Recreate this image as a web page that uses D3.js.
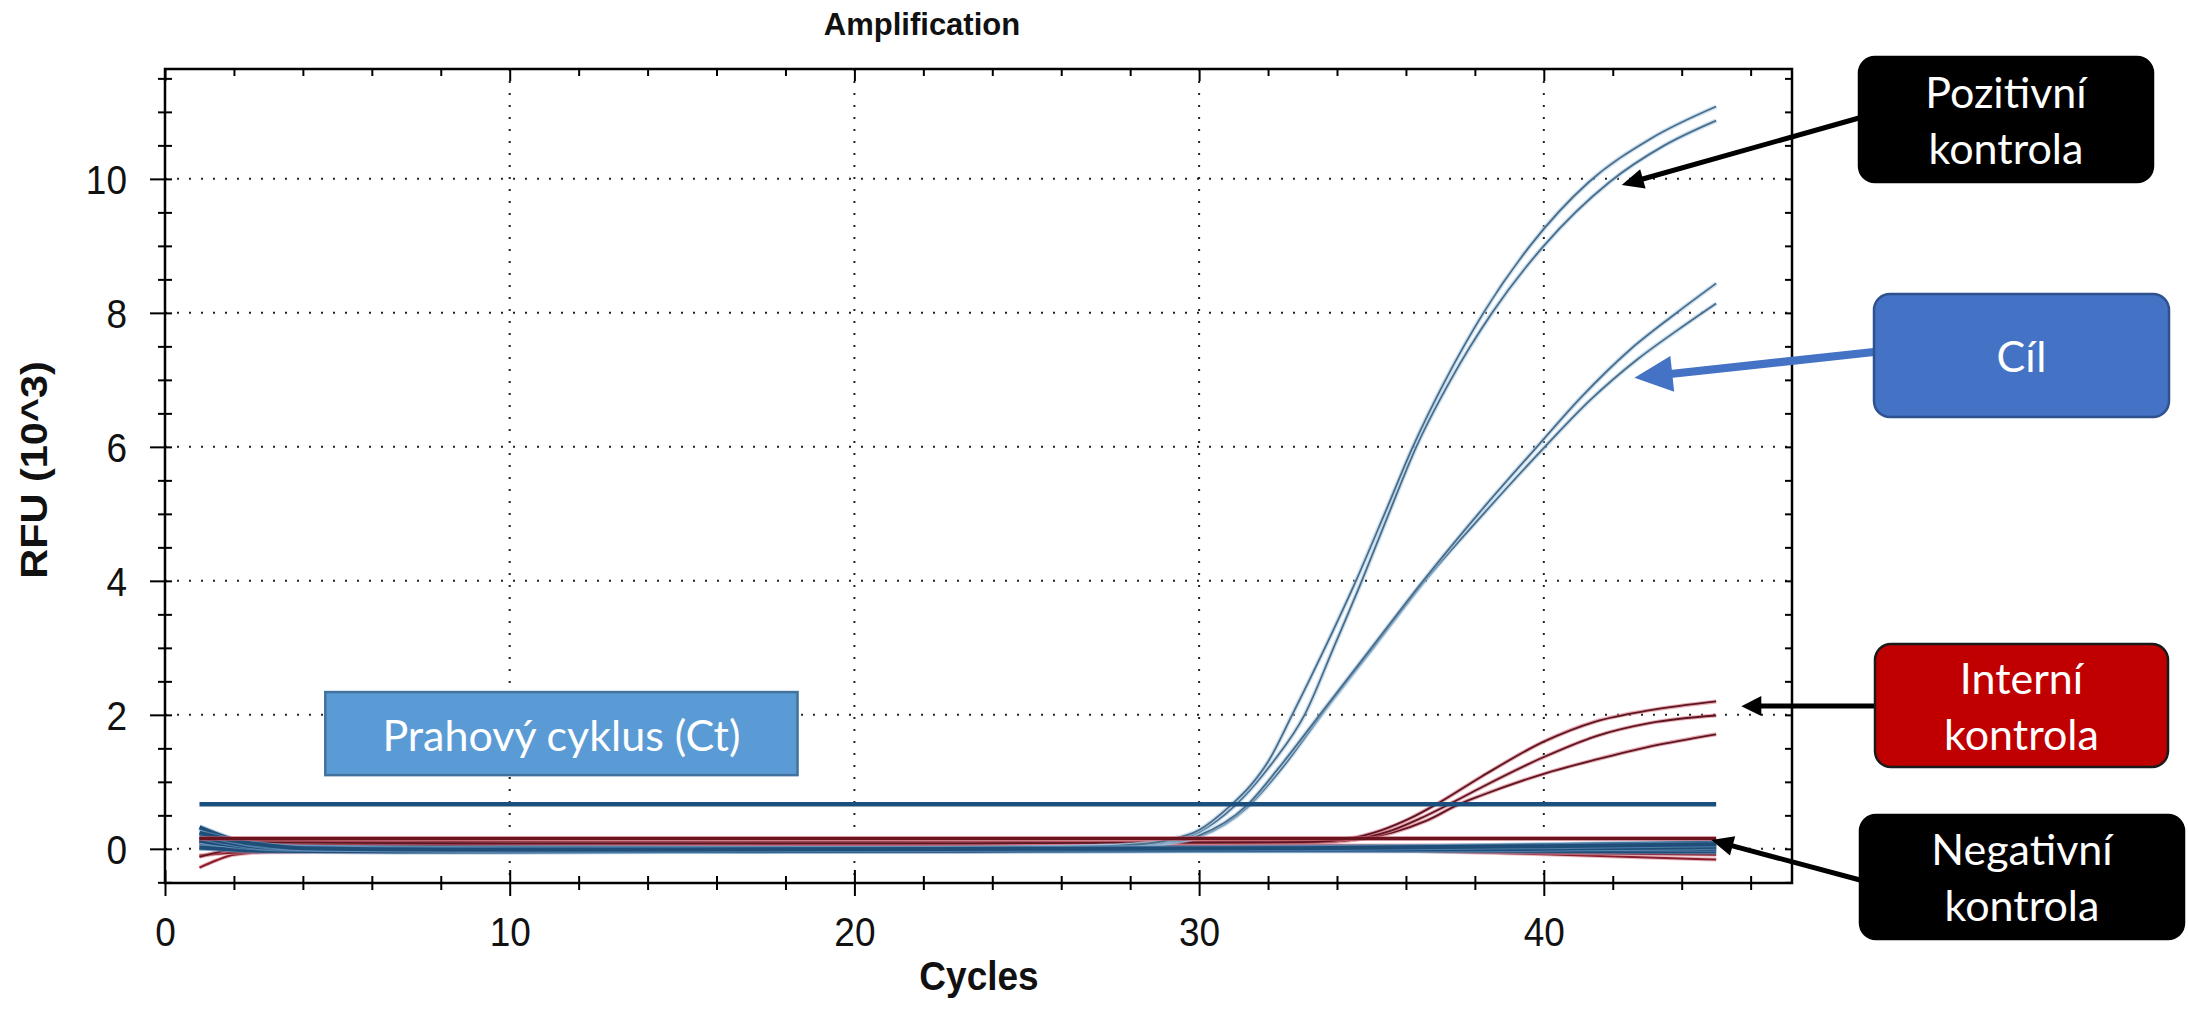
<!DOCTYPE html>
<html lang="cs">
<head>
<meta charset="UTF-8">
<title>Amplification</title>
<script src="https://cdn.jsdelivr.net/npm/d3@7/dist/d3.min.js"></script>
<style>
    body { margin: 0; background: #fff; }
    svg { display: block; }
</style>
</head>
<body>
<script>
    /* global d3 */

    // axis labels
    var xTickLabels = [0, 10, 20, 30, 40];
    var yTickLabels = [0, 2, 4, 6, 8, 10];
    var gridX = [10, 20, 30, 40];
    var gridY = [0, 2, 4, 6, 8, 10];

    // threshold lines (RFU x10^3)
    var thresholdCil = 0.667;
    var thresholdIC = 0.154;

    // [cycle, RFU x10^3]
    var pozitivni1 = [[1,0.06],[3,0.03],[8,0.01],[15,0.0],[22,0.01],[27,0.04],[28,0.06],[29,0.12],[30,0.28],[30.9,0.64],[31.5,0.95],[32,1.3],[32.7,2.0],[33.65,3.0],[34.55,4.0],[35.38,5.0],[36.2,6.0],[37.15,7.0],[38.25,8.0],[39.6,9.0],[41.3,9.95],[43.1,10.6],[45,11.08]];
    var pozitivni2 = [[1,0.0],[3,0.01],[8,0.0],[15,-0.01],[22,0.0],[27,0.03],[28,0.05],[29,0.1],[30,0.25],[31.03,0.64],[31.6,0.95],[32.15,1.3],[33.06,2.0],[33.9,3.0],[34.72,4.0],[35.5,5.0],[36.3,6.0],[37.3,7.0],[38.5,8.0],[40.0,9.0],[41.9,9.95],[43.5,10.5],[45,10.87]];

    var cil1 = [[1,0.03],[3,0.02],[8,0.0],[15,0.0],[22,0.0],[27,0.03],[28,0.05],[29,0.09],[30,0.2],[31.37,0.64],[32.3,1.2],[33.5,2.0],[35.0,3.0],[36.5,4.0],[38.1,5.0],[39.8,6.0],[41.1,6.75],[42.5,7.45],[43.8,7.98],[45,8.44]];
    var cil2 = [[1,0.01],[3,0.0],[8,-0.01],[15,0.0],[22,0.0],[27,0.02],[28,0.04],[29,0.08],[30,0.18],[31.4,0.62],[32.4,1.2],[33.55,2.0],[35.05,3.0],[36.55,4.0],[38.25,5.0],[40.03,6.0],[41.35,6.7],[42.7,7.3],[43.9,7.75],[45,8.14]];

    var interni1 = [[1,0.1],[5,0.09],[12,0.08],[20,0.08],[28,0.09],[33,0.1],[34.3,0.15],[35.3,0.28],[36.1,0.45],[36.9,0.67],[38.2,1.08],[40,1.6],[41.5,1.9],[43.1,2.07],[45,2.2]];
    var interni2 = [[1,0.13],[5,0.11],[12,0.1],[20,0.1],[28,0.1],[33,0.11],[34.5,0.15],[35.5,0.26],[36.4,0.45],[37.27,0.67],[38.2,0.92],[40,1.37],[41.5,1.68],[43.1,1.88],[45,1.99]];
    var interni3 = [[1,-0.12],[2,0.0],[3,0.05],[8,0.06],[15,0.07],[25,0.08],[33,0.09],[34.6,0.14],[35.6,0.24],[36.6,0.42],[37.56,0.67],[38.2,0.8],[40,1.12],[41.5,1.33],[43.1,1.53],[45,1.71]];

    var negModra1 = [[1,0.32],[1.5,0.22],[2.2,0.1],[3,0.04],[5,0.0],[10,-0.02],[20,-0.03],[28,-0.02],[35,-0.01],[40,0.0],[45,0.03]];
    var negModra2 = [[1,0.24],[2,0.12],[3,0.05],[4,0.01],[8,-0.01],[15,-0.01],[25,0.0],[33,0.01],[40,0.04],[45,0.07]];
    var negModra3 = [[1,0.02],[3,-0.03],[8,-0.04],[18,-0.03],[28,-0.02],[36,-0.02],[40,-0.03],[45,-0.04]];
    var negModra4 = [[1,0.12],[2,0.05],[4,0.0],[12,0.01],[22,-0.01],[32,0.0],[38,0.02],[45,0.0]];
    var negModra5 = [[1,0.18],[2,0.08],[3,0.02],[9,0.0],[19,0.0],[29,0.01],[37,0.03],[45,0.09]];

    var negCervena1 = [[1,-0.28],[1.5,-0.17],[2,-0.09],[3,-0.05],[8,-0.04],[16,-0.03],[26,-0.02],[33,-0.01],[36,-0.03],[40,-0.08],[45,-0.16]];
    var negCervena2 = [[1,-0.1],[2,-0.06],[5,-0.03],[15,-0.02],[30,-0.01],[35,-0.02],[40,-0.06],[45,-0.09]];
    var negCervena3 = [[1,0.08],[4,0.05],[12,0.04],[24,0.04],[34,0.05],[40,0.05],[45,0.06]];

    var width = 2188, height = 1017,
        STRETCH = 1.12,   // the source screenshot is a little taller than wide
        axisFont = "'Liberation Sans', Arial, sans-serif",
        boxFont = "Lato, 'Open Sans', sans-serif";

    var x = d3.scaleLinear().domain([0, 47.2]).range([165, 1792]),
        y = d3.scaleLinear().domain([-0.51, 11.64]).range([883, 69]);

    var svg = d3.select("body").append("svg")
        .attr("width", width)
        .attr("height", height);

    svg.append("rect").attr("width", width).attr("height", height).attr("fill", "#fff");

    // dotted grid
    var grid = svg.append("g")
        .attr("stroke", "#222")
        .attr("stroke-width", 2)
        .attr("stroke-dasharray", "2,10");

    grid.selectAll("line.gx").data(gridX).enter().append("line")
        .attr("x1", function (d) { return x(d); })
        .attr("x2", function (d) { return x(d); })
        .attr("y1", y.range()[1])
        .attr("y2", y.range()[0]);

    grid.selectAll("line.gy").data(gridY).enter().append("line")
        .attr("y1", function (d) { return y(d); })
        .attr("y2", function (d) { return y(d); })
        .attr("x1", x.range()[0])
        .attr("x2", x.range()[1]);

    // curves
    var line = d3.line()
        .x(function (d) { return x(d[0]); })
        .y(function (d) { return y(d[1]); })
        .curve(d3.curveMonotoneX);

    var plot = svg.append("g").attr("fill", "none").attr("stroke-linejoin", "round");

    function drawCurve(data, halo, core, haloW, coreW) {
        var d = line(data);
        if (halo) {
            plot.append("path").attr("d", d).attr("stroke", halo)
                .attr("stroke-width", haloW).attr("stroke-opacity", 0.6);
        }
        plot.append("path").attr("d", d).attr("stroke", core).attr("stroke-width", coreW);
    }

    [negCervena1, negCervena2, negCervena3].forEach(function (s) {
        drawCurve(s, "#d88a94", "#8a1c2c", 4, 2);
    });
    [interni3, interni2, interni1].forEach(function (s) {
        drawCurve(s, "#d8707e", "#5c1622", 4, 1.8);
    });
    [cil2, cil1, pozitivni2, pozitivni1].forEach(function (s) {
        drawCurve(s, "#a9cde8", "#4c6c88", 4.5, 1.8);
    });
    // the negative wells sit on top as a dark band around zero
    [negModra3, negModra4, negModra5, negModra1, negModra2].forEach(function (s) {
        drawCurve(s, "#6f9cc4", "#1f4e79", 6, 4);
    });

    // threshold lines
    drawCurve([[1, thresholdIC], [45, thresholdIC]], "#c25563", "#6a1420", 5, 3);
    drawCurve([[1, thresholdCil], [45, thresholdCil]], null, "#1b4f7d", 0, 4.5);

    // frame + ticks
    var xMinor = d3.range(0, 47, 2),
        yMinor = d3.range(-0.5, 11.6, 0.5);

    function isMajorY(d) { return d >= 0 && Math.abs(d % 2) < 1e-9; }

    var gx = svg.append("g")
        .attr("transform", "translate(0," + y.range()[0] + ")")
        .call(d3.axisBottom(x).tickValues(xMinor).tickSizeOuter(0)
            .tickFormat(function (d) { return xTickLabels.indexOf(d) >= 0 ? d : ""; }));
    gx.select(".domain").remove();
    gx.selectAll(".tick line")
        .attr("y1", function (d) { return d % 10 ? -7 : -13; })
        .attr("y2", function (d) { return d % 10 ? 7 : 13; })
        .attr("stroke", "#000").attr("stroke-width", 2);
    gx.selectAll(".tick text")
        .attr("y", null).attr("dy", null)
        .attr("transform", "translate(0,63) scale(1," + STRETCH + ")")
        .attr("font-family", axisFont).attr("font-size", 37).attr("fill", "#111");

    var gy = svg.append("g")
        .attr("transform", "translate(" + x.range()[0] + ",0)")
        .call(d3.axisLeft(y).tickValues(yMinor).tickSizeOuter(0)
            .tickFormat(function (d) { return isMajorY(d) && yTickLabels.indexOf(d) >= 0 ? d : ""; }));
    gy.select(".domain").remove();
    gy.selectAll(".tick line")
        .attr("x1", function (d) { return isMajorY(d) ? -15 : -7; })
        .attr("x2", 7)
        .attr("stroke", "#000").attr("stroke-width", 2);
    gy.selectAll(".tick text")
        .attr("x", null).attr("dy", null)
        .attr("transform", "translate(-38,14.5) scale(1," + STRETCH + ")")
        .attr("font-family", axisFont).attr("font-size", 37).attr("fill", "#111");

    var gt = svg.append("g")
        .attr("transform", "translate(0," + y.range()[1] + ")")
        .call(d3.axisTop(x).tickValues(xMinor).tickSizeOuter(0).tickFormat(""));
    gt.select(".domain").remove();
    gt.selectAll(".tick line")
        .attr("y2", function (d) { return d % 10 ? 7 : 12; })
        .attr("stroke", "#000").attr("stroke-width", 2);

    var gr = svg.append("g")
        .attr("transform", "translate(" + x.range()[1] + ",0)")
        .call(d3.axisRight(y).tickValues(yMinor).tickSizeOuter(0).tickFormat(""));
    gr.select(".domain").remove();
    gr.selectAll(".tick line")
        .attr("x2", -7)
        .attr("stroke", "#000").attr("stroke-width", 2);

    svg.append("rect")
        .attr("x", x.range()[0]).attr("y", y.range()[1])
        .attr("width", x.range()[1] - x.range()[0])
        .attr("height", y.range()[0] - y.range()[1])
        .attr("fill", "none").attr("stroke", "#000").attr("stroke-width", 2.5);

    // titles
    svg.append("text")
        .attr("x", 922).attr("y", 35)
        .attr("text-anchor", "middle")
        .attr("font-family", axisFont).attr("font-weight", "bold").attr("font-size", 31)
        .attr("fill", "#111")
        .text("Amplification");

    svg.append("text")
        .attr("transform", "translate(979,990) scale(1," + STRETCH + ")")
        .attr("text-anchor", "middle")
        .attr("font-family", axisFont).attr("font-weight", "bold").attr("font-size", 37)
        .attr("fill", "#111")
        .text("Cycles");

    svg.append("text")
        .attr("transform", "translate(47,470) rotate(-90) scale(" + STRETCH + ",1)")
        .attr("text-anchor", "middle")
        .attr("font-family", axisFont).attr("font-weight", "bold").attr("font-size", 37)
        .attr("fill", "#111")
        .text("RFU (10^3)");

    // Ct label box, placed in data units
    var ann = svg.append("g");
    var ct = {c0: 4.65, c1: 18.35, v0: 1.1, v1: 2.34};
    ann.append("rect")
        .attr("x", x(ct.c0)).attr("y", y(ct.v1))
        .attr("width", x(ct.c1) - x(ct.c0)).attr("height", y(ct.v0) - y(ct.v1))
        .attr("fill", "#5b9bd5").attr("stroke", "#41719c").attr("stroke-width", 2.5);
    ann.append("text")
        .attr("x", (x(ct.c0) + x(ct.c1)) / 2)
        .attr("y", (y(ct.v0) + y(ct.v1)) / 2 + 17)
        .attr("text-anchor", "middle")
        .attr("font-family", boxFont).attr("font-size", 43).attr("fill", "#fff")
        .text("Prahový cyklus (Ct)");

    // callouts: boxes in pixels on the right, arrow tips in data units
    var callouts = [
        {lines: ["Pozitivní", "kontrola"], box: [1859, 57, 294, 125], fill: "#000", stroke: "#000",
            from: [1859, 118], tip: [42.26, 9.91], color: "#000", w: 5, head: [22, 20]},
        {lines: ["Cíl"], box: [1874, 294, 295, 123], fill: "#4472c4", stroke: "#2f528f",
            from: [1874, 352], tip: [42.63, 7.03], color: "#4472c4", w: 8, head: [38, 36]},
        {lines: ["Interní", "kontrola"], box: [1875, 644, 293, 123], fill: "#c00000", stroke: "#1a1a1a",
            from: [1875, 706], tip: [45.73, 2.13], color: "#000", w: 5, head: [20, 20]},
        {lines: ["Negativní", "kontrola"], box: [1860, 815, 324, 124], fill: "#000", stroke: "#000",
            from: [1860, 880], tip: [44.86, 0.13], color: "#000", w: 5, head: [22, 20]}
    ];

    function arrow(g, x1, y1, x2, y2, w, headLen, headW, color) {
        var dx = x2 - x1, dy = y2 - y1,
            len = Math.sqrt(dx * dx + dy * dy),
            ux = dx / len, uy = dy / len,
            bx = x2 - ux * headLen, by = y2 - uy * headLen;
        g.append("line")
            .attr("x1", x1).attr("y1", y1)
            .attr("x2", bx + ux * 2).attr("y2", by + uy * 2)
            .attr("stroke", color).attr("stroke-width", w);
        g.append("path")
            .attr("d", "M" + x2 + "," + y2 +
                "L" + (bx - uy * headW / 2) + "," + (by + ux * headW / 2) +
                "L" + (bx + uy * headW / 2) + "," + (by - ux * headW / 2) + "Z")
            .attr("fill", color);
    }

    callouts.forEach(function (c) {
        arrow(ann, c.from[0], c.from[1], x(c.tip[0]), y(c.tip[1]), c.w, c.head[0], c.head[1], c.color);

        ann.append("rect")
            .attr("x", c.box[0]).attr("y", c.box[1])
            .attr("width", c.box[2]).attr("height", c.box[3])
            .attr("rx", 16).attr("ry", 16)
            .attr("fill", c.fill).attr("stroke", c.stroke).attr("stroke-width", 2.5);

        var cx = c.box[0] + c.box[2] / 2,
            cy = c.box[1] + c.box[3] / 2 + 16,
            step = 56;
        c.lines.forEach(function (t, i) {
            ann.append("text")
                .attr("x", cx)
                .attr("y", cy + (i - (c.lines.length - 1) / 2) * step)
                .attr("text-anchor", "middle")
                .attr("font-family", boxFont).attr("font-size", 43).attr("fill", "#fff")
                .text(t);
        });
    });

</script>
</body>
</html>
